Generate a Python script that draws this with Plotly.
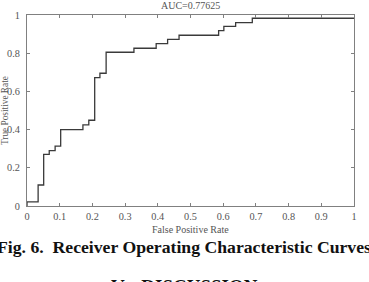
import plotly.graph_objects as go

# ROC curve step points
fpr = [0.0, 0.0, 0.034, 0.051, 0.068, 0.086, 0.103, 0.171, 0.189, 0.207, 0.223,
       0.242, 0.327, 0.395, 0.430, 0.465, 0.586, 0.602, 0.638, 0.689, 1.0]
tpr = [0.0, 0.022, 0.11, 0.27, 0.29, 0.314, 0.40, 0.425, 0.449, 0.672, 0.695,
       0.805, 0.826, 0.85, 0.872, 0.894, 0.918, 0.94, 0.96, 0.983, 0.983]

x_ticks = [0, 0.1, 0.2, 0.3, 0.4, 0.5, 0.6, 0.7, 0.8, 0.9, 1]
x_tick_labels = ["0", "0.1", "0.2", "0.3", "0.4", "0.5", "0.6", "0.7", "0.8", "0.9", "1"]
y_ticks = [0, 0.2, 0.4, 0.6, 0.8, 1]
y_tick_labels = ["0", "0.2", "0.4", "0.6", "0.8", "1"]

title_text = "AUC=0.77625"
x_title = "False Positive Rate"
y_title = "True Positive Rate"
caption = "Fig. 6.\u00a0\u00a0Receiver Operating Characteristic Curves"
section = "V.\u00a0\u00a0\u00a0DISCUSSION"

W, H = 369, 282
L, R, T, B = 27, 15, 15, 76
PW, PH = W - L - R, H - T - B

def px_x(p):
    return (p - L) / PW

def px_y(p):
    return (H - B - p) / PH

SERIF = "Liberation Serif, Times New Roman, serif"
GRAY = "#555555"
AXIS = "#808080"

fig = go.Figure()
fig.add_trace(go.Scatter(x=fpr, y=tpr, mode="lines", line=dict(color="#3a3a3a", width=1.3, shape="hv"),
                         hoverinfo="skip", showlegend=False))

axis_common = dict(range=[0, 1], showline=True, linecolor=AXIS, linewidth=1, mirror="allticks",
                   ticks="inside", ticklen=3, tickcolor=AXIS, tickwidth=1, showgrid=False,
                   zeroline=False, tickfont=dict(family=SERIF, size=10.3, color=GRAY), automargin=False,
                   fixedrange=True)

fig.update_layout(
    width=W, height=H,
    margin=dict(l=L, r=R, t=T, b=B, pad=0),
    paper_bgcolor="white", plot_bgcolor="white",
    xaxis=dict(**axis_common, tickvals=x_ticks, ticktext=x_tick_labels, ticklabelstandoff=1),
    yaxis=dict(**axis_common, tickvals=y_ticks, ticktext=y_tick_labels, ticklabelstandoff=4),
    showlegend=False,
)

annotations = [
    dict(text=title_text, x=0.5, y=px_y(5.5), xref="paper", yref="paper", showarrow=False,
         xanchor="center", yanchor="middle", font=dict(family=SERIF, size=10, color=GRAY)),
    dict(text=x_title, x=0.5, y=px_y(229.5), xref="paper", yref="paper", showarrow=False,
         xanchor="center", yanchor="middle", font=dict(family=SERIF, size=10, color=GRAY)),
    dict(text=y_title, x=px_x(-1.5), y=0.5, xref="paper", yref="paper", showarrow=False, textangle=-90,
         xanchor="left", yanchor="middle", borderpad=0, font=dict(family=SERIF, size=9.3, color=GRAY)),
    dict(text=caption, x=px_x(183.6), y=px_y(246.5), xref="paper", yref="paper", showarrow=False,
         xanchor="center", yanchor="middle", font=dict(family=SERIF, size=17.7, color="#111111")),
    dict(text=section, x=px_x(110), y=px_y(275), xref="paper", yref="paper", showarrow=False,
         xanchor="left", yanchor="top", borderpad=0, font=dict(family=SERIF, size=19, color="#111111")),
]
for a in annotations[3:]:
    a["text"] = "<b>" + a["text"] + "</b>"
fig.update_layout(annotations=annotations)

fig.write_html("out.html", config={"displayModeBar": False})
